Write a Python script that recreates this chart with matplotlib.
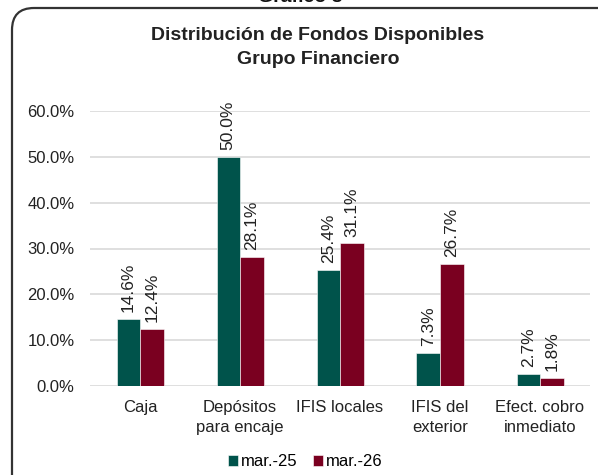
import numpy as np
import matplotlib.pyplot as plt
from matplotlib.patches import FancyBboxPatch

plt.rcParams['font.family'] = ['Liberation Sans', 'DejaVu Sans']

categorias = ["Caja", "Depósitos\npara encaje", "IFIS locales", "IFIS del\nexterior", "Efect. cobro\ninmediato"]
mar25 = [14.6, 50.0, 25.4, 7.3, 2.7]
mar26 = [12.4, 28.1, 31.1, 26.7, 1.8]
series = ["mar.-25", "mar.-26"]
colores = ["#00534B", "#7A0020"]

fig = plt.figure(figsize=(5.98, 4.75), dpi=100)
ax = fig.add_axes([90/598, 1-386/475, 500/598, 275/475])

x = np.arange(len(categorias))
w = 0.235
b1 = ax.bar(x - w/2, mar25, w, color=colores[0], edgecolor="white", linewidth=0.4, label=series[0], zorder=3)
b2 = ax.bar(x + w/2, mar26, w, color=colores[1], edgecolor="white", linewidth=0.4, label=series[1], zorder=3)

for barras in (b1, b2):
    for r in barras:
        ax.text(r.get_x() + r.get_width()/2, r.get_height() + 1.5, "%.1f%%" % r.get_height(),
                rotation=90, ha="center", va="bottom", fontsize=12.5, color="#222222")

ax.set_ylim(0, 60)
ax.set_xlim(-0.5, 4.5)
ax.set_yticks(np.arange(0, 61, 10))
ax.set_yticklabels(["%.1f%%" % v for v in np.arange(0, 61, 10)], fontsize=12, color="#222222")
ax.set_xticks(x)
ax.set_xticklabels(categorias, fontsize=12, color="#222222", linespacing=1.45)
ax.tick_params(length=0, pad=11)
ax.tick_params(axis="x", pad=10)
ax.grid(axis="y", color="#D9D9D9", linewidth=1.2, zorder=0)
for s in ax.spines.values():
    s.set_visible(False)

ax.legend(loc="center", bbox_to_anchor=(305/598, 1-462/475), bbox_transform=fig.transFigure,
          ncol=2, frameon=False, fontsize=12, handlelength=0.6, handleheight=0.6,
          handletextpad=0.2, columnspacing=0.9)

fig.text(318/598, 1-36/475, "Distribución de Fondos Disponibles", ha="center", va="center",
         fontsize=14, fontweight="bold", color="#222222")
fig.text(318/598, 1-59/475, "Grupo Financiero", ha="center", va="center",
         fontsize=14, fontweight="bold", color="#222222")
fig.text(300/598, 1-6/475, "Gráfico 8", ha="center", va="bottom",
         fontsize=14, fontweight="bold", color="#111111")

marco = FancyBboxPatch((12, -40), 640, 507, boxstyle="round,pad=0,rounding_size=22",
                       transform=None, facecolor="none", edgecolor="#333333", linewidth=1.6)
fig.patches.append(marco)

plt.savefig("out.png", dpi=100)
